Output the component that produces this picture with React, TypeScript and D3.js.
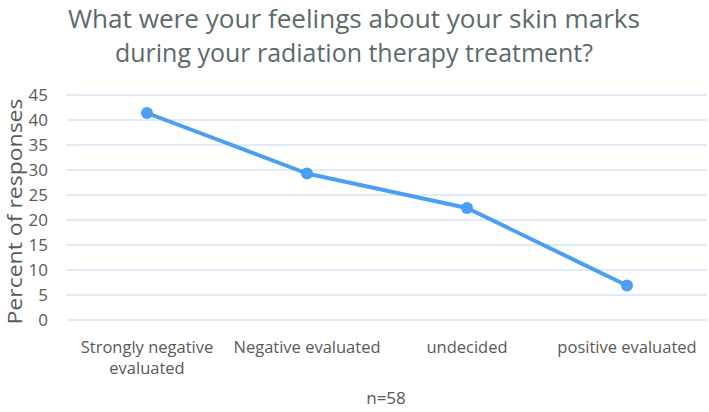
import React from "react";
import * as d3 from "d3";

const categories = ["Strongly negative evaluated", "Negative evaluated", "undecided", "positive evaluated"];
const categoryLines = [["Strongly negative", "evaluated"], ["Negative evaluated"], ["undecided"], ["positive evaluated"]];
const values = [41.4, 29.3, 22.4, 6.9];
const yTicks = [0, 5, 10, 15, 20, 25, 30, 35, 40, 45];
const titleLines = ["What were your feelings about your skin marks", "during your radiation therapy treatment?"];
const yLabel = "Percent of responses";
const footnote = "n=58";

export default function App() {
  const W = 709, H = 412;
  const left = 67, right = 707, top = 95, bottom = 320;
  const x = d3.scaleBand<string>().domain(categories).range([left, right]);
  const y = d3.scaleLinear().domain([0, 45]).range([bottom, top]);
  const line = d3.line<number>().x((_, i) => (x(categories[i]) as number) + x.bandwidth() / 2).y((d) => y(d));
  const font = "'Open Sans', sans-serif";
  const gray = "#595959";
  return (
    <svg width={W} height={H} style={{ position: "absolute", left: 0, top: 0, background: "#fff" }} fontFamily={font}>
      <rect width={W} height={H} fill="#fff" />
      {titleLines.map((t, i) => (
        <text key={i} x={354} y={28 + i * 34} textAnchor="middle" fontSize={25} fill="#5b6a6b"
          textLength={i === 0 ? 572 : 478} lengthAdjust="spacingAndGlyphs">{t}</text>
      ))}
      {yTicks.map((t) => (
        <g key={t}>
          <line x1={left - 1} x2={right} y1={y(t)} y2={y(t)} stroke="#d5e5f4" strokeWidth={1.3} />
          <text x={48} y={y(t) + 6} textAnchor="end" fontSize={17} fill={gray}>{t}</text>
        </g>
      ))}
      <text transform={`translate(22,${(top + bottom) / 2 + 4}) rotate(-90)`} textAnchor="middle" fontSize={20} fill={gray}
        textLength={226} lengthAdjust="spacingAndGlyphs">{yLabel}</text>
      <path d={line(values) || ""} fill="none" stroke="#4a9ff5" strokeWidth={4} strokeLinejoin="round" />
      {values.map((v, i) => (
        <circle key={i} cx={(x(categories[i]) as number) + x.bandwidth() / 2} cy={y(v)} r={6} fill="#4a9ff5" />
      ))}
      {categoryLines.map((ls, i) => (
        <text key={i} textAnchor="middle" fontSize={16.5} fill={gray}>
          {ls.map((l, j) => (
            <tspan key={j} x={(x(categories[i]) as number) + x.bandwidth() / 2} y={353 + j * 21}>{l}</tspan>
          ))}
        </text>
      ))}
      <text x={386} y={404} textAnchor="middle" fontSize={17} fill={gray}>{footnote}</text>
    </svg>
  );
}
